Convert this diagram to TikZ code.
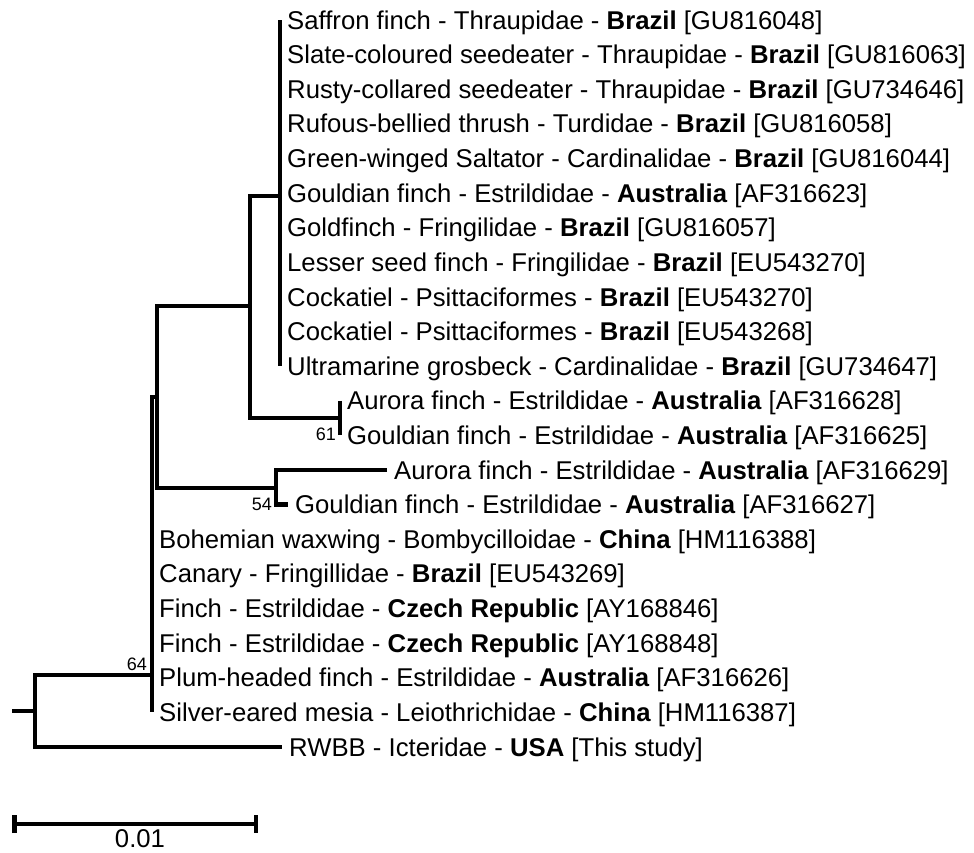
\documentclass[tikz,border=0pt]{standalone}
\usepackage{fontspec}
\setmainfont{Liberation Sans}
\usetikzlibrary{arrows.meta}

\begin{document}
\begin{tikzpicture}[x=1pt,y=-1pt]
\tikzstyle{leaf}=[anchor=west,inner xsep=7pt,inner ysep=0pt,text height=18pt,text depth=0pt,font=\fontsize{25.7}{30}\selectfont]
\tikzstyle{branch}=[line width=4.5pt]
\tikzstyle{boot}=[anchor=base east,inner sep=0pt,font=\fontsize{18}{20}\selectfont]
\useasboundingbox (0,0) rectangle (974,852);
% taxa
\node [leaf] (sa)  at (280,20.0)  {Saffron finch - Thraupidae - \textbf{Brazil} [GU816048]};
\node [leaf] (sl)  at (280,54.6)  {Slate-coloured seedeater - Thraupidae - \textbf{Brazil} [GU816063]};
\node [leaf] (ru)  at (280,89.2)  {Rusty-collared seedeater - Thraupidae - \textbf{Brazil} [GU734646]};
\node [leaf] (rf)  at (280,123.9) {Rufous-bellied thrush - Turdidae - \textbf{Brazil} [GU816058]};
\node [leaf] (gw)  at (280,158.5) {Green-winged Saltator - Cardinalidae - \textbf{Brazil} [GU816044]};
\node [leaf] (go1) at (280,193.1) {Gouldian finch - Estrildidae - \textbf{Australia} [AF316623]};
\node [leaf] (gf)  at (280,227.7) {Goldfinch - Fringilidae - \textbf{Brazil} [GU816057]};
\node [leaf] (ls)  at (280,262.3) {Lesser seed finch - Fringilidae - \textbf{Brazil} [EU543270]};
\node [leaf] (ck1) at (280,297.0) {Cockatiel - Psittaciformes - \textbf{Brazil} [EU543270]};
\node [leaf] (ck2) at (280,331.6) {Cockatiel - Psittaciformes - \textbf{Brazil} [EU543268]};
\node [leaf] (ug)  at (280,366.2) {Ultramarine grosbeck - Cardinalidae - \textbf{Brazil} [GU734647]};
\node [leaf] (au1) at (340,400.8) {Aurora finch - Estrildidae - \textbf{Australia} [AF316628]};
\node [leaf] (go2) at (340,435.4) {Gouldian finch - Estrildidae - \textbf{Australia} [AF316625]};
\node [leaf] (au2) at (387,470.1) {Aurora finch - Estrildidae - \textbf{Australia} [AF316629]};
\node [leaf] (go3) at (288,504.7) {Gouldian finch - Estrildidae - \textbf{Australia} [AF316627]};
\node [leaf] (bw)  at (152,539.3) {Bohemian waxwing - Bombycilloidae - \textbf{China} [HM116388]};
\node [leaf] (cn)  at (152,573.9) {Canary - Fringillidae - \textbf{Brazil} [EU543269]};
\node [leaf] (fi1) at (152,608.5) {Finch - Estrildidae - \textbf{Czech Republic} [AY168846]};
\node [leaf] (fi2) at (152,643.2) {Finch - Estrildidae - \textbf{Czech Republic} [AY168848]};
\node [leaf] (ph)  at (152,677.8) {Plum-headed finch - Estrildidae - \textbf{Australia} [AF316626]};
\node [leaf] (se)  at (152,712.4) {Silver-eared mesia - Leiothrichidae - \textbf{China} [HM116387]};
\node [leaf] (rw)  at (282,747.0) {RWBB - Icteridae - \textbf{USA} [This study]};
% inner nodes
\coordinate (base) at (12,711);
\coordinate (root) at (35,711);
\coordinate (n64) at (152,675);
\coordinate (ca) at (157,397);
\coordinate (cb) at (250,306);
\coordinate (top) at (280,196);
\coordinate (c61) at (340,418);
\coordinate (c54) at (276,488);
% branches
\draw [branch] (base) -- (root);
\draw [branch] (n64) -| (root) |- (rw.west);
\draw [branch] (ca) -| (se.west);
\draw [branch] (cb) -| (ca) |- (c54);
\draw [branch] (top) -| (cb) |- (c61);
\draw [branch] (sa.west) -- (ug.west);
\draw [branch] (au1.west) -- (go2.west);
\draw [branch] (au2.west) -| (c54) |- (go3.west);
% bootstrap values
\node [boot] (bs64) at (147,670) {64};
\node [boot] (bs61) at (336,440) {61};
\node [boot] (bs54) at (272,510) {54};
% scale bar
\coordinate (sbl) at (12,824);
\coordinate (sbr) at (258,824);
\draw [branch,{Bar[width=18pt]}-{Bar[width=18pt]}] (sbl) -- (sbr);
\node [anchor=base,inner sep=0pt,font=\fontsize{25.7}{30}\selectfont] (sblabel) at (140,847) {0.01};
\end{tikzpicture}
\end{document}
